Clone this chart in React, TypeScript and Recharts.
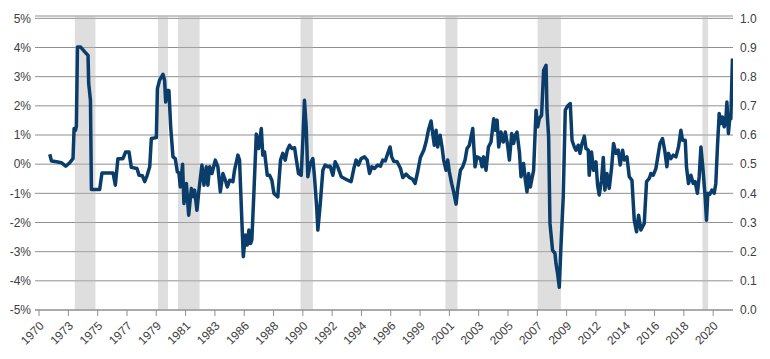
import React from 'react';
import { ComposedChart, Line, XAxis, YAxis, CartesianGrid, ReferenceArea } from 'recharts';

// decimal years
const YEARS = [
  1970.79, 1970.92, 1971.29, 1971.65, 1971.97, 1972.27, 1972.51, 1972.59, 1972.69, 1972.76,
  1972.84, 1973.06, 1973.38, 1973.62, 1973.67, 1973.80, 1973.87, 1974.48, 1974.65, 1975.47,
  1975.64, 1975.83, 1976.20, 1976.40, 1976.65, 1976.82, 1977.24, 1977.39, 1977.64, 1977.81,
  1977.98, 1978.18, 1978.30, 1978.67, 1978.75, 1978.91, 1979.16, 1979.28, 1979.36, 1979.48,
  1979.60, 1979.73, 1979.90, 1980.07, 1980.22, 1980.34, 1980.44, 1980.61, 1980.71, 1980.89,
  1981.06, 1981.26, 1981.43, 1981.50, 1981.67, 1981.82, 1982.04, 1982.19, 1982.36, 1982.48,
  1982.61, 1982.78, 1983.03, 1983.22, 1983.40, 1983.59, 1983.77, 1983.92, 1984.09, 1984.33,
  1984.45, 1984.70, 1984.82, 1984.99, 1985.10, 1985.25, 1985.39, 1985.51, 1985.64, 1985.73,
  1985.88, 1986.06, 1986.23, 1986.43, 1986.54, 1986.67, 1986.87, 1987.04, 1987.21, 1987.36,
  1987.65, 1987.85, 1988.02, 1988.20, 1988.35, 1988.52, 1988.69, 1988.89, 1989.01, 1989.18,
  1989.38, 1989.50, 1989.62, 1989.75, 1989.87, 1990.05, 1990.24, 1990.36, 1990.53, 1990.61,
  1990.78, 1990.98, 1991.15, 1991.35, 1991.52, 1991.72, 1991.89, 1992.08, 1992.34, 1992.58,
  1992.82, 1993.07, 1993.27, 1993.44, 1993.61, 1993.81, 1994.06, 1994.26, 1994.43, 1994.60,
  1994.79, 1995.04, 1995.24, 1995.41, 1995.59, 1995.78, 1995.95, 1996.07, 1996.22, 1996.47,
  1996.72, 1996.89, 1997.14, 1997.38, 1997.62, 1997.80, 1997.99, 1998.19, 1998.44, 1998.61,
  1998.78, 1998.98, 1999.10, 1999.22, 1999.35, 1999.47, 1999.65, 1999.79, 1999.91, 2000.09,
  2000.21, 2000.33, 2000.50, 2000.65, 2000.83, 2000.95, 2001.15, 2001.32, 2001.49, 2001.64,
  2001.81, 2002.06, 2002.23, 2002.38, 2002.62, 2002.75, 2002.87, 2003.04, 2003.22, 2003.41,
  2003.61, 2003.73, 2003.86, 2003.98, 2004.15, 2004.32, 2004.47, 2004.64, 2004.77, 2004.94,
  2005.08, 2005.20, 2005.33, 2005.51, 2005.63, 2005.82, 2005.95, 2006.07, 2006.19, 2006.32,
  2006.44, 2006.56, 2006.74, 2006.86, 2006.98, 2007.15, 2007.30, 2007.48, 2007.55, 2007.67,
  2007.77, 2007.96, 2008.14, 2008.21, 2008.33, 2008.46, 2008.58, 2008.75, 2008.90, 2009.07,
  2009.27, 2009.40, 2009.57, 2009.69, 2009.86, 2009.99, 2010.14, 2010.31, 2010.43, 2010.60,
  2010.67, 2010.84, 2010.99, 2011.17, 2011.29, 2011.41, 2011.58, 2011.71, 2011.83, 2011.98,
  2012.15, 2012.32, 2012.47, 2012.65, 2012.82, 2012.96, 2013.14, 2013.26, 2013.46, 2013.63,
  2013.83, 2014.00, 2014.17, 2014.32, 2014.49, 2014.74, 2014.91, 2015.11, 2015.23, 2015.40,
  2015.60, 2015.72, 2015.90, 2016.09, 2016.27, 2016.41, 2016.53, 2016.71, 2016.88, 2017.08,
  2017.27, 2017.45, 2017.57, 2017.77, 2017.86, 2018.01, 2018.19, 2018.36, 2018.50, 2018.67,
  2018.80, 2018.93, 2019.09, 2019.24, 2019.34, 2019.44, 2019.59, 2019.74, 2019.91, 2020.03,
  2020.15, 2020.28, 2020.40, 2020.52, 2020.65, 2020.77, 2020.85, 2020.96, 2021.07, 2021.14,
  2021.26,
];

// values in %, left axis
const SPREAD = [
  0.34, 0.11, 0.08, 0.05, -0.07, 0.05, 0.19, 1.22, 1.16, 1.30,
  4.02, 4.02, 3.85, 3.73, 2.76, 2.19, -0.87, -0.87, -0.30, -0.30,
  -0.72, 0.19, 0.19, 0.42, 0.42, -0.11, -0.15, -0.38, -0.40, -0.60,
  -0.40, -0.09, 0.88, 0.91, 2.59, 2.88, 3.08, 2.88, 2.13, 2.53,
  2.53, 1.28, 0.25, 0.19, -0.26, -0.30, -0.78, 0.00, -1.35, -0.66,
  -1.75, -0.83, -1.12, -0.89, -1.58, -0.89, -0.03, -0.72, -0.09, -0.72,
  -0.09, -0.32, 0.14, -0.09, -0.95, -0.32, -0.55, -0.78, -0.55, -0.60,
  -0.21, 0.31, 0.14, -1.92, -3.17, -2.43, -2.77, -2.26, -2.72, -2.60,
  -1.00, 1.03, 0.54, 1.22, 0.31, 0.42, -0.38, -0.38, -0.55, -1.00,
  -1.12, 0.14, 0.37, 0.14, 0.48, 0.65, 0.54, 0.56, 0.19, -0.32,
  -0.38, 0.82, 2.19, 1.28, -0.43, 0.02, 0.19, -0.43, -1.52, -2.26,
  -1.40, -0.21, -0.03, -0.09, -0.07, -0.38, 0.08, -0.09, -0.43, -0.49,
  -0.55, -0.60, -0.15, 0.14, -0.03, 0.19, 0.25, 0.14, -0.32, -0.09,
  -0.15, -0.03, -0.07, 0.14, 0.11, 0.37, 0.59, 0.25, 0.10, 0.08,
  -0.15, -0.46, -0.34, -0.46, -0.52, -0.66, -0.26, 0.23, 0.48, 0.76,
  1.16, 1.48, 1.05, 0.65, 1.16, 0.59, 0.99, 0.59, 0.14, -0.21,
  0.14, -0.26, -0.66, -0.95, -1.37, -0.83, -0.21, -0.09, 0.14, 0.54,
  0.65, 1.22, -0.09, 0.25, 0.19, -0.09, 0.25, -0.21, 0.59, 0.76,
  1.56, 1.16, 1.51, 0.59, 1.10, 0.76, 1.10, 0.65, 0.14, 1.05,
  0.71, 0.99, 1.10, 0.42, -0.43, 0.02, -0.55, -0.95, -0.32, -0.78,
  -0.49, -0.21, 1.85, 1.28, 1.56, 1.68, 3.22, 3.39, 1.85, 0.94,
  -2.03, -2.95, -3.06, -3.40, -3.74, -4.22, -2.83, -1.12, 1.85, 1.99,
  2.08, 0.82, 0.59, 0.48, 0.65, 0.37, 0.71, 0.96, 0.54, 0.48,
  -0.38, 0.42, -0.21, 0.08, -0.72, -1.06, -0.55, 0.23, -0.89, -0.32,
  -0.83, -0.15, 0.71, 0.37, 0.48, -0.03, 0.48, 0.14, 0.25, -0.43,
  -0.55, -1.92, -2.32, -1.75, -2.26, -2.03, -0.60, -0.49, -0.32, -0.38,
  -0.15, 0.19, 0.71, 0.88, 0.42, -0.09, 0.37, 0.19, 0.31, 0.25,
  0.59, 1.16, 0.82, 0.82, -0.09, -0.66, -0.38, -0.66, -0.60, -1.00,
  -0.43, 0.59, -0.21, -1.12, -1.92, -1.00, -1.03, -0.89, -1.00, -0.66,
  0.59, 1.74, 1.39, 1.62, 1.28, 1.51, 2.13, 1.05, 1.62, 1.56,
  3.62,
];

const TICK_LABELS = [
  '1970', '1973', '1975', '1977', '1979', '1981', '1983', '1986', '1988', '1990', '1992', '1994',
  '1996', '1999', '2001', '2003', '2005', '2007', '2009', '2012', '2014', '2016', '2018', '2020',
];

// shaded periods, same year units as YEARS
const SHADE_START = [1972.64, 1978.79, 1980.27, 1989.33, 2000.04, 2006.86, 2019.04];
const SHADE_END = [1974.17, 1979.53, 1981.87, 1990.24, 2000.93, 2008.58, 2019.46];

const LEFT_TICKS = [-5, -4, -3, -2, -1, 0, 1, 2, 3, 4, 5];
const RIGHT_TICKS = [0, 0.1, 0.2, 0.3, 0.4, 0.5, 0.6, 0.7, 0.8, 0.9, 1.0];

const data = YEARS.map((year, i) => ({ year, spread: SPREAD[i] }));

// axis ticks are spaced every 26 months
const xTicks = TICK_LABELS.map((_, i) => 1970 + (i * 26) / 12);

const TEXT = '#404040';
const FONT = '"Liberation Sans", Arial, sans-serif';

const YearTick = (props: any) => {
  const { x, y, index } = props;
  return (
    <text
      x={x}
      y={y}
      dx={-2}
      dy={10}
      textAnchor="end"
      fill={TEXT}
      fontSize={12}
      fontFamily={FONT}
      transform={`rotate(-45, ${x}, ${y})`}
    >
      {TICK_LABELS[index]}
    </text>
  );
};

export default function App() {
  return (
    <div style={{ position: 'absolute', left: 0, top: 0, width: 770, height: 359, background: '#fff' }}>
      <ComposedChart
        width={770}
        height={359}
        data={data}
        margin={{ top: 16, right: 0, bottom: 0, left: 0 }}
        style={{ fontFamily: FONT }}
      >
        <CartesianGrid yAxisId="left" vertical={false} stroke="#8f8f8f" strokeWidth={1} />
        {SHADE_START.map((s, i) => (
          <ReferenceArea
            key={`shade-${i}`}
            yAxisId="left"
            x1={s}
            x2={SHADE_END[i]}
            y1={-5}
            y2={5.08}
            fill="#b9b6b6"
            fillOpacity={0.45}
            stroke="none"
            ifOverflow="hidden"
          />
        ))}
        <XAxis
          dataKey="year"
          type="number"
          domain={[1969.7, 2021.3]}
          ticks={xTicks}
          interval={0}
          allowDataOverflow
          height={49}
          stroke="#8f8f8f"
          tickSize={6}
          tickMargin={2}
          tick={<YearTick />}
        />
        <YAxis
          yAxisId="left"
          orientation="left"
          width={35}
          domain={[-5, 5.08]}
          ticks={LEFT_TICKS}
          allowDataOverflow
          axisLine={false}
          tickLine={false}
          tickSize={0}
          tickMargin={4}
          tickFormatter={(v: number) => `${v}%`}
          tick={{ fill: TEXT, fontSize: 12 }}
        />
        <YAxis
          yAxisId="right"
          orientation="right"
          width={37}
          domain={[0, 1.008]}
          ticks={RIGHT_TICKS}
          allowDataOverflow
          axisLine={false}
          tickLine={false}
          tickSize={0}
          tickMargin={7}
          tickFormatter={(v: number) => v.toFixed(1)}
          tick={{ fill: TEXT, fontSize: 12, textAnchor: 'start' }}
        />
        <Line
          yAxisId="left"
          type="linear"
          dataKey="spread"
          stroke="#0b3d6b"
          strokeWidth={3.5}
          strokeLinejoin="round"
          dot={false}
          isAnimationActive={false}
        />
      </ComposedChart>
    </div>
  );
}
